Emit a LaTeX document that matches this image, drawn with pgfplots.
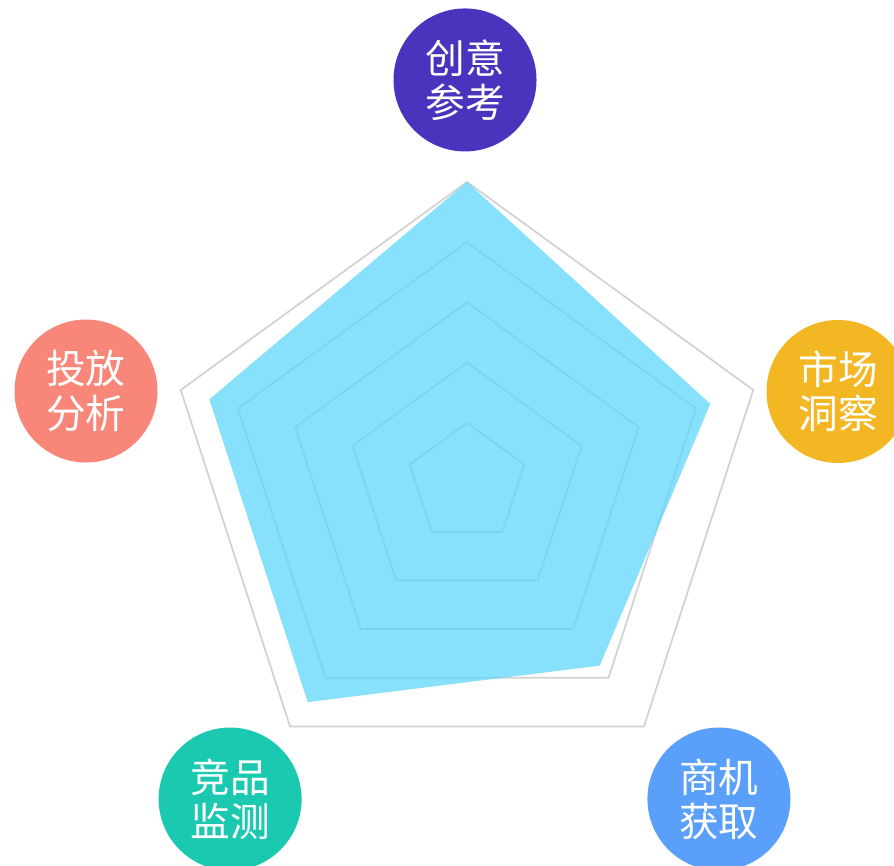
\documentclass[border=0pt]{standalone}
\usepackage{pgfplots}
\pgfplotsset{compat=1.18}
\usepackage{fontspec}
\newfontfamily\cjk{Noto Sans CJK SC}
\definecolor{gridc}{RGB}{210,210,210}
\definecolor{fillc}{RGB}{95,214,251}
\definecolor{cpurple}{RGB}{74,52,190}
\definecolor{cyellow}{RGB}{244,183,36}
\definecolor{csalmon}{RGB}{248,135,122}
\definecolor{cteal}{RGB}{27,201,176}
\definecolor{cblue}{RGB}{90,160,250}
\begin{document}
\begin{tikzpicture}
\begin{axis}[name=ax, x=3.01cm, y=3.01cm, xmin=-1.5515, xmax=1.4186, ymin=-1.2724, ymax=1.6047,
  hide axis, clip=false, scale only axis]
% grid pentagons
\addplot[data cs=polar, draw=gridc, line width=0.5pt, line join=round] coordinates {(90,0.2) (18,0.2) (-54,0.2) (-126,0.2) (162,0.2) (90,0.2)};
\addplot[data cs=polar, draw=gridc, line width=0.5pt, line join=round] coordinates {(90,0.4) (18,0.4) (-54,0.4) (-126,0.4) (162,0.4) (90,0.4)};
\addplot[data cs=polar, draw=gridc, line width=0.5pt, line join=round] coordinates {(90,0.6) (18,0.6) (-54,0.6) (-126,0.6) (162,0.6) (90,0.6)};
\addplot[data cs=polar, draw=gridc, line width=0.5pt, line join=round] coordinates {(90,0.8) (18,0.8) (-54,0.8) (-126,0.8) (162,0.8) (90,0.8)};
\addplot[data cs=polar, draw=gridc, line width=0.5pt, line join=round] coordinates {(90,1.0) (18,1.0) (-54,1.0) (-126,1.0) (162,1.0) (90,1.0)};
% data
\addplot[data cs=polar, draw=none, fill=fillc, fill opacity=0.75] coordinates {(90,1.0) (18,0.85) (-54,0.75) (-126,0.9) (162,0.9)} -- cycle;
% labels
\tikzset{lab/.style={circle, minimum size=1.43cm, inner sep=0pt, text=white, align=center, font=\cjk\fontsize{11.3}{12.6}\selectfont}}
\node[lab, fill=cpurple] at (axis cs:-0.0066,1.339) {\raisebox{-1.5pt}{创意}\\\raisebox{-1.5pt}{参考}};
\node[lab, fill=cyellow] at (axis cs:1.2326,0.304) {\raisebox{-1.5pt}{市场}\\\raisebox{-1.5pt}{洞察}};
\node[lab, fill=cblue] at (axis cs:0.837,-1.050) {\raisebox{-1.5pt}{商机}\\\raisebox{-1.5pt}{获取}};
\node[lab, fill=cteal] at (axis cs:-0.787,-1.050) {\raisebox{-1.5pt}{竞品}\\\raisebox{-1.5pt}{监测}};
\node[lab, fill=csalmon] at (axis cs:-1.2658,0.3056) {\raisebox{-1.5pt}{投放}\\\raisebox{-1.5pt}{分析}};
\end{axis}
\pgfresetboundingbox
\useasboundingbox (ax.south west) rectangle (ax.north east);
\end{tikzpicture}
\end{document}
